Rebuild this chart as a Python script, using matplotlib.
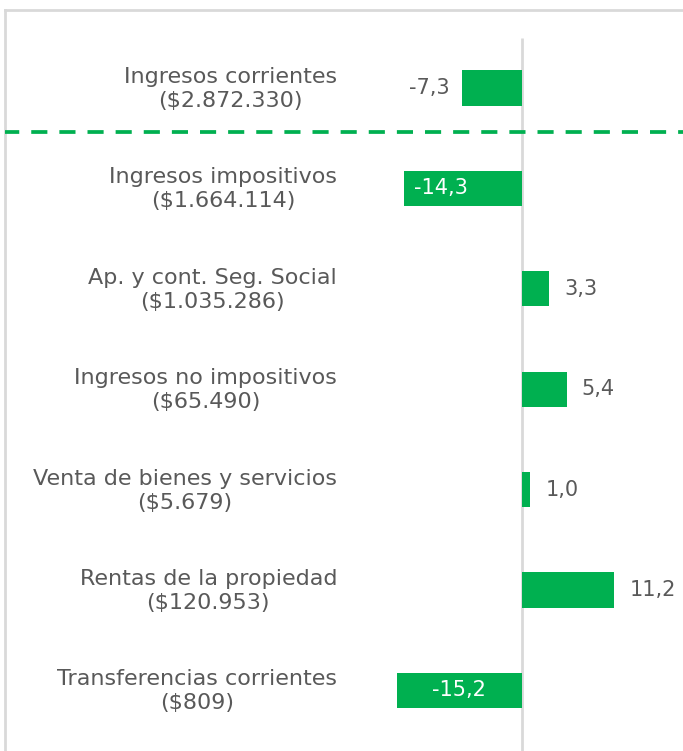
import matplotlib.pyplot as plt

# Variación real interanual (%) de los ingresos
categorias = [
    "Ingresos corrientes\n($2.872.330)",
    "Ingresos impositivos\n($1.664.114)",
    "Ap. y cont. Seg. Social\n($1.035.286)",
    "Ingresos no impositivos\n($65.490)",
    "Venta de bienes y servicios\n($5.679)",
    "Rentas de la propiedad\n($120.953)",
    "Transferencias corrientes\n($809)",
]
variacion = [-7.3, -14.3, 3.3, 5.4, 1.0, 11.2, -15.2]
# where each value label goes
ubicacion = ['fuera', 'dentro', 'fuera', 'fuera', 'fuera', 'fuera', 'centro']

verde = "#00b050"
gris_texto = "#595959"
gris_linea = "#d9d9d9"

plt.rcParams['font.family'] = ['DejaVu Sans']

W, H = 683, 751
fig = plt.figure(figsize=(W / 100, H / 100), dpi=100)
ax = fig.add_axes([5 / W, 0, 678 / W, (H - 10) / H])

pos = list(range(len(categorias)))
ax.barh(pos, variacion, height=0.35, color=verde, zorder=2)

px = 8.25  # pixels per unit
ax.set_xlim(-517 / px, 161 / px)
paso = 100.4
ax.set_ylim((H - 88) / paso, (10 - 88) / paso)

ax.vlines(0, -0.5, 7, color=gris_linea, lw=2, zorder=1)
ax.axhline(0.44, color=verde, lw=2.7, ls=(0.5, (4.3, 3.2)), zorder=3)

for spine in ['right', 'bottom']:
    ax.spines[spine].set_visible(False)
for spine in ['top', 'left']:
    ax.spines[spine].set_color(gris_linea)
    ax.spines[spine].set_linewidth(2)
ax.set_xticks([])
ax.set_yticks([])

fs = 16
fs_val = 15
for i, (cat, v, u) in enumerate(zip(categorias, variacion, ubicacion)):
    ax.text(0.4897, i + 0.01, cat, transform=ax.get_yaxis_transform(),
            ha='right', va='center', multialignment='center',
            fontsize=fs, color=gris_texto, linespacing=1.25)
    txt = f"{v:.1f}".replace('.', ',')
    if u == 'dentro':
        ax.text(v + 10 / px, i, txt, ha='left', va='center',
                fontsize=fs_val, color='white')
    elif u == 'centro':
        ax.text(v / 2, i, txt, ha='center', va='center',
                fontsize=fs_val, color='white')
    elif v > 0:
        ax.text(v + 15 / px, i, txt, ha='left', va='center',
                fontsize=fs_val, color=gris_texto)
    else:
        ax.text(v - 12 / px, i, txt, ha='right', va='center',
                fontsize=fs_val, color=gris_texto)

fig.savefig("out.png", dpi=100)
